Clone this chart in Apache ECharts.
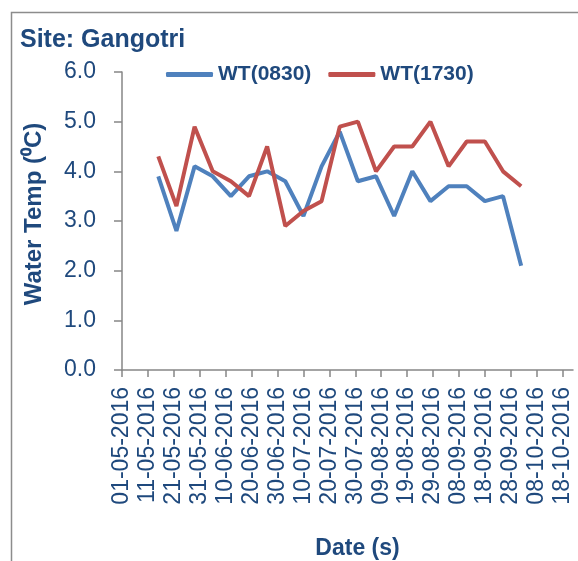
<!DOCTYPE html>
<html>
<head>
<meta charset="utf-8">
<script src="https://cdn.jsdelivr.net/npm/echarts@6/dist/echarts.min.js"></script>
<style>
  html, body { margin: 0; padding: 0; background: #fff; }
  #chart { width: 578px; height: 561px; }
</style>
</head>
<body>
<div id="chart"></div>
<script>
// weekly readings, Gangotri
const dates = ['15-05-2016', '22-05-2016', '29-05-2016', '05-06-2016', '12-06-2016', '19-06-2016',
  '26-06-2016', '03-07-2016', '10-07-2016', '17-07-2016', '24-07-2016', '31-07-2016', '07-08-2016',
  '14-08-2016', '21-08-2016', '28-08-2016', '04-09-2016', '11-09-2016', '18-09-2016', '25-09-2016',
  '02-10-2016'];
const wt0830 = [3.9, 2.8, 4.1, 3.9, 3.5, 3.9, 4.0, 3.8, 3.1, 4.1, 4.8, 3.8, 3.9, 3.1, 4.0, 3.4, 3.7, 3.7, 3.4, 3.5, 2.1];
const wt1730 = [4.3, 3.3, 4.9, 4.0, 3.8, 3.5, 4.5, 2.9, 3.2, 3.4, 4.9, 5.0, 4.0, 4.5, 4.5, 5.0, 4.1, 4.6, 4.6, 4.0, 3.7];
const seriesNames = ['WT(0830)', 'WT(1730)'];
const yTicks = [0, 1, 2, 3, 4, 5, 6];
// x tick labels every 10 days from 01-05-2016 to 18-10-2016
const xTickDays = [0, 10, 20, 30, 40, 50, 60, 70, 80, 90, 100, 110, 120, 130, 140, 150, 160, 170];

const DAY = 86400000;
const start = Date.UTC(2016, 4, 1);
const toDay = s => {
  const p = s.split('-');
  return (Date.UTC(+p[2], +p[1] - 1, +p[0]) - start) / DAY;
};
const pad = n => (n < 10 ? '0' : '') + n;
const fromDay = d => {
  const t = new Date(start + d * DAY);
  return pad(t.getUTCDate()) + '-' + pad(t.getUTCMonth() + 1) + '-' + t.getUTCFullYear();
};

const textColor = '#1F497D';
const axisGrey = '#868686';
const font = 'Liberation Sans';

const myChart = echarts.init(document.getElementById('chart'));
myChart.setOption({
  animation: false,
  textStyle: { fontFamily: font },
  graphic: [{
    type: 'rect',
    shape: { x: 11.5, y: 12.5, width: 700, height: 700 },
    style: { fill: 'none', stroke: '#8c8c8c', lineWidth: 1.5 },
  }],
  title: {
    text: 'Site: Gangotri',
    left: 15,
    top: 23,
    textStyle: { color: textColor, fontSize: 25, fontWeight: 'bold', fontFamily: font },
  },
  legend: {
    data: seriesNames,
    left: 161,
    top: 59,
    itemWidth: 47,
    itemHeight: 5,
    itemGap: 17,
    icon: 'roundRect',
    textStyle: { color: textColor, fontSize: 21, fontWeight: 'bold', fontFamily: font },
  },
  grid: {
    left: 122,
    right: 5,
    top: 72,
    bottom: 191,
    outerBoundsMode: 'none',
  },
  xAxis: {
    type: 'value',
    min: 0,
    max: 174,
    name: 'Date (s)',
    nameLocation: 'middle',
    nameGap: 167,
    nameTextStyle: { color: textColor, fontSize: 23, fontWeight: 'bold', padding: [0, 0, 0, 20] },
    splitLine: { show: false },
    axisLine: { lineStyle: { color: axisGrey, width: 1.5 } },
    axisTick: { length: 7, customValues: xTickDays, lineStyle: { color: axisGrey, width: 1.5 } },
    axisLabel: {
      rotate: 90,
      margin: 17,
      color: textColor,
      fontSize: 23,
      customValues: xTickDays,
      formatter: v => fromDay(v),
    },
  },
  yAxis: {
    type: 'value',
    min: yTicks[0],
    max: yTicks[yTicks.length - 1],
    interval: 1,
    name: 'Water Temp (\u2070C)',
    nameLocation: 'middle',
    nameGap: 76,
    nameTextStyle: { color: textColor, fontSize: 24, fontWeight: 'bold', padding: [0, 0, 0, 14] },
    splitLine: { show: false },
    axisLine: { show: true, lineStyle: { color: axisGrey, width: 1.5 } },
    axisTick: { show: true, length: 8, lineStyle: { color: axisGrey, width: 1.5 } },
    axisLabel: {
      margin: 26,
      color: textColor,
      fontSize: 23,
      formatter: v => v.toFixed(1),
    },
  },
  series: [
    {
      name: seriesNames[0],
      type: 'line',
      data: dates.map((d, i) => [toDay(d), wt0830[i]]),
      showSymbol: false,
      symbol: 'none',
      itemStyle: { color: '#4F81BD' },
      lineStyle: { width: 4, color: '#4F81BD' },
    },
    {
      name: seriesNames[1],
      type: 'line',
      data: dates.map((d, i) => [toDay(d), wt1730[i]]),
      showSymbol: false,
      symbol: 'none',
      itemStyle: { color: '#C0504D' },
      lineStyle: { width: 4, color: '#C0504D' },
    },
  ],
});
</script>
</body>
</html>
